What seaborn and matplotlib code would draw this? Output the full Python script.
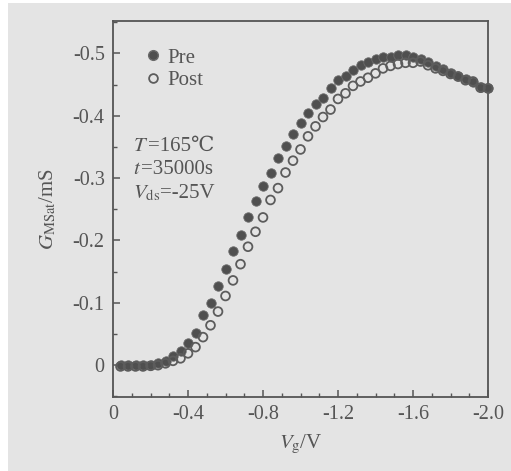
import numpy as np
import matplotlib
matplotlib.use('Agg')
import matplotlib.pyplot as plt
import seaborn as sns
import pandas as pd
from matplotlib.lines import Line2D
from matplotlib.patches import Rectangle
from matplotlib.ticker import MultipleLocator, FixedLocator

# gate voltage (V)
v_g = [-0.04, -0.08, -0.12, -0.16, -0.20, -0.24, -0.28, -0.32, -0.36, -0.40,
       -0.44, -0.48, -0.52, -0.56, -0.60, -0.64, -0.68, -0.72, -0.76, -0.80,
       -0.84, -0.88, -0.92, -0.96, -1.00, -1.04, -1.08, -1.12, -1.16, -1.20,
       -1.24, -1.28, -1.32, -1.36, -1.40, -1.44, -1.48, -1.52, -1.56, -1.60,
       -1.64, -1.68, -1.72, -1.76, -1.80, -1.84, -1.88, -1.92, -1.96, -2.00]

# transconductance before stress (mS)
g_pre = [0.000, 0.000, 0.000, 0.000, -0.001, -0.003, -0.007, -0.014, -0.022, -0.036,
         -0.051, -0.081, -0.099, -0.127, -0.155, -0.183, -0.209, -0.237, -0.264, -0.287,
         -0.309, -0.333, -0.352, -0.370, -0.388, -0.404, -0.419, -0.428, -0.444, -0.457,
         -0.464, -0.474, -0.481, -0.487, -0.491, -0.494, -0.495, -0.497, -0.497, -0.495,
         -0.491, -0.486, -0.480, -0.475, -0.469, -0.464, -0.459, -0.454, -0.446, -0.445]

# transconductance after stress (mS)
g_post = [0.002, 0.002, 0.002, 0.002, 0.001, 0.000, -0.003, -0.007, -0.011, -0.019,
          -0.029, -0.045, -0.064, -0.086, -0.111, -0.136, -0.162, -0.190, -0.214, -0.237,
          -0.265, -0.284, -0.309, -0.328, -0.346, -0.367, -0.383, -0.398, -0.410, -0.427,
          -0.436, -0.448, -0.455, -0.461, -0.468, -0.476, -0.480, -0.483, -0.485, -0.485,
          -0.487, -0.481, -0.476, -0.472, -0.467, -0.463, -0.457, -0.455, -0.445, -0.444]

x_ticks = [0, -0.4, -0.8, -1.2, -1.6, -2.0]
x_tick_labels = ['0', '-0.4', '-0.8', '-1.2', '-1.6', '-2.0']
y_ticks = [0, -0.1, -0.2, -0.3, -0.4, -0.5]
y_tick_labels = ['0', '-0.1', '-0.2', '-0.3', '-0.4', '-0.5']

# stress conditions: (italic symbol, subscript, rest of line)
conditions = [('T', '', '=165℃'), ('t', '', '=35000s'), ('V', 'ds', '=-25V')]


def main():
    sns.set_style('ticks')
    plt.rcParams['font.family'] = ['Liberation Serif', 'DejaVu Serif']
    plt.rcParams['mathtext.fontset'] = 'stix'

    ink = '#555555'
    bg = '#e4e4e4'

    df = pd.DataFrame({'Vg': v_g * 2,
                       'G': g_pre + g_post,
                       'state': ['Pre'] * len(v_g) + ['Post'] * len(v_g)})

    fig = plt.figure(figsize=(5.11, 4.71), dpi=100, facecolor='white')
    fig.patches.append(Rectangle((8 / 511, 0), 1, 1 - 3 / 471, transform=fig.transFigure,
                                 facecolor=bg, edgecolor='none', zorder=-10))
    ax = fig.add_axes([113 / 511, 1 - 397 / 471, 375 / 511, 376 / 471])
    ax.set_facecolor(bg)

    sns.scatterplot(data=df[df['state'] == 'Pre'], x='Vg', y='G', ax=ax,
                    marker='o', s=46, color='#4f4f4f', edgecolor='#6a6a6a',
                    linewidth=0.6, clip_on=False, zorder=3, legend=False)
    sns.scatterplot(data=df[df['state'] == 'Post'], x='Vg', y='G', ax=ax,
                    marker='o', s=40, facecolor='none', edgecolor='#5c5c5c',
                    linewidth=1.3, clip_on=False, zorder=4, legend=False)

    # axes limits (both axes reversed)
    ax.set_xlim(0, -2.0)
    ax.set_ylim(0.051, -0.552)

    ax.xaxis.set_major_locator(FixedLocator(x_ticks))
    ax.set_xticklabels(x_tick_labels)
    ax.xaxis.set_minor_locator(MultipleLocator(0.1))
    ax.yaxis.set_major_locator(FixedLocator(y_ticks))
    ax.set_yticklabels(y_tick_labels)
    ax.yaxis.set_minor_locator(MultipleLocator(0.05))

    ax.tick_params(which='both', direction='in', colors=ink, labelsize=14.5,
                   top=False, right=False)
    ax.tick_params(which='major', length=5, width=1.1, pad=6)
    ax.tick_params(which='minor', length=3, width=1.0)
    for sp in ax.spines.values():
        sp.set_color(ink)
        sp.set_linewidth(1.3)
        sp.set_visible(True)

    ax.set_xlabel('$V_{\\rm g}$/V', fontsize=15, color=ink, labelpad=6)
    ax.set_ylabel('$G_{\\rm MSat}$/mS', fontsize=15, color=ink, labelpad=10)

    # legend
    handles = [Line2D([], [], marker='o', linestyle='none', markersize=7,
                      markerfacecolor='#4f4f4f', markeredgecolor='#6a6a6a'),
               Line2D([], [], marker='o', linestyle='none', markersize=6.3,
                      markerfacecolor='none', markeredgecolor='#5c5c5c',
                      markeredgewidth=1.3)]
    leg = ax.legend(handles, ['Pre', 'Post'], loc='upper left', frameon=False,
                    fontsize=15, handletextpad=0.1, handlelength=1.2,
                    labelspacing=0.15, borderaxespad=0.0,
                    bbox_to_anchor=(0.05, 0.95))
    for t in leg.get_texts():
        t.set_color(ink)

    # stress conditions, one line each, symbol and rest share a baseline
    line_y = [0.655, 0.592, 0.528]
    for (sym, sub, rest), yy in zip(conditions, line_y):
        label = f'${sym}_{{\\rm {sub}}}$' if sub else f'${sym}$'
        t_sym = ax.text(0.053, yy, label, transform=ax.transAxes, fontsize=15,
                        color=ink, va='baseline')
        ax.annotate(rest, xy=(1, yy), xycoords=(t_sym, ax.transAxes),
                    fontsize=15, color=ink, va='baseline', ha='left')

    fig.savefig('out.png', dpi=100, facecolor=fig.get_facecolor())
    plt.close(fig)


if __name__ == '__main__':
    main()
